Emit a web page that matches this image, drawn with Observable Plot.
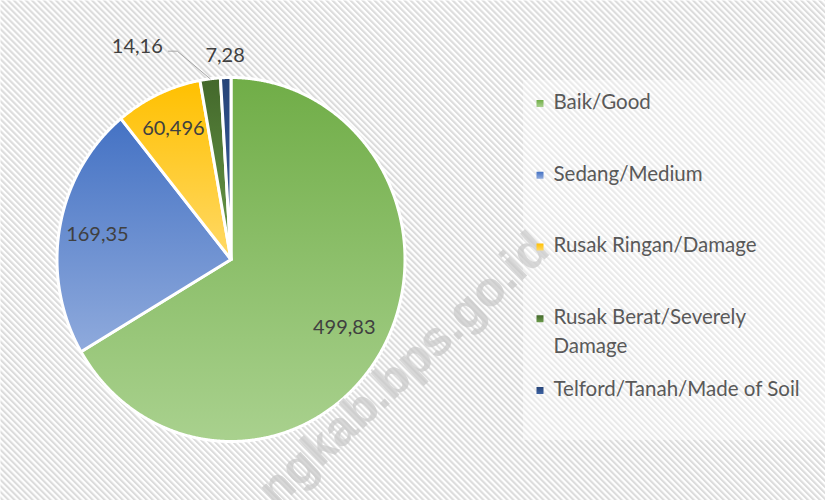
<!DOCTYPE html>
<html>
<head>
<meta charset="utf-8">
<script src="https://cdn.jsdelivr.net/npm/d3@7"></script>
<script src="https://cdn.jsdelivr.net/npm/@observablehq/plot@0.6"></script>
<style>
  html, body { margin: 0; padding: 0; background: #ffffff; }
  #chart { width: 825px; height: 500px; }
</style>
</head>
<body>
<div id="chart"></div>
<script>
// ---- data ----
const categories = ["Baik/Good", "Sedang/Medium", "Rusak Ringan/Damage", "Rusak Berat/Severely\nDamage", "Telford/Tanah/Made of Soil"];
const values = [499.83, 169.35, 60.496, 14.16, 7.28];
const valueLabels = ["499,83", "169,35", "60,496", "14,16", "7,28"];
const topColors = ["#70AD47", "#4472C4", "#FFC000", "#43682B", "#264478"];
const bottomColors = ["#A9D18E", "#8FAADC", "#FFD966", "#6A9A4A", "#3D62A3"];
const watermark = ["ngkab.bps.go.id"];

// ---- layout ----
const W = 825, H = 500;
const cx = 230.5, cy = 259, rx = 174, ry = 182;
const ix = px => (px - cx) / rx;   // pixel -> data x
const iy = py => (cy - py) / ry;   // pixel -> data y

const arcs = d3.pie().sort(null).value(d => d)(values);

// slice polygons in unit data space
const slices = arcs.map((a, i) => {
  const n = Math.max(3, Math.ceil((a.endAngle - a.startAngle) / 0.005));
  const pts = [{x: 0, y: 0}];
  for (let k = 0; k <= n; k++) {
    const t = a.startAngle + (a.endAngle - a.startAngle) * k / n;
    pts.push({x: Math.sin(t), y: Math.cos(t)});
  }
  pts.push({x: 0, y: 0});
  return pts;
});

// label positions
const labelR = [0.75, 0.78, 0.79, 1.29, 1.12];
const labelShift = [0, 0, 0, -17.8 * Math.PI / 180, 0];
const labels = arcs.map((a, i) => {
  const m = (a.startAngle + a.endAngle) / 2 + labelShift[i];
  return {x: Math.sin(m) * labelR[i], y: Math.cos(m) * labelR[i], text: valueLabels[i]};
});

// leader line for the small outside label (index 3)
const lab3 = labels[3];
const lab3px = cx + lab3.x * rx, lab3py = cy - lab3.y * ry;
const mid3 = (arcs[3].startAngle + arcs[3].endAngle) / 2;
const leader = [
  {x: ix(lab3px + 31), y: iy(lab3py + 5)},
  {x: ix(lab3px + 40), y: iy(lab3py + 5)},
  {x: Math.sin(mid3) * 1.0, y: Math.cos(mid3) * 1.0}
];

// legend
const legendTop = 103.5, legendStep = 71.75, fs = 20.5;
const legend = categories.map((c, i) => {
  const yy = legendTop + i * legendStep;
  return {
    i, label: c,
    tx: ix(553), ty: iy(yy - 0.76 * fs),
    sx1: ix(536.5), sx2: ix(543.5), sy1: iy(yy - 3.5), sy2: iy(yy + 3.5)
  };
});

const marks = [];
marks.push(Plot.frame({fill: "url(#stripes)", stroke: "none"}));
slices.forEach((pts, i) => {
  marks.push(Plot.line(pts, {
    x: "x", y: "y", fill: `url(#grad${i})`, stroke: "white",
    strokeWidth: 3, strokeLinejoin: "round", curve: "linear"
  }));
});
marks.push(Plot.line(leader, {x: "x", y: "y", stroke: "#a6a6a6", strokeWidth: 1}));
marks.push(Plot.text(labels, {
  x: "x", y: "y", text: "text", fontSize: 20, fill: "#404040", fontFamily: "Lato"
}));
// legend box
marks.push(Plot.rect([0], {
  x1: ix(523), x2: ix(826), y1: iy(80), y2: iy(440), fill: "white", fillOpacity: 0.4
}));
marks.push(Plot.text(watermark, {
  x: ix(403), y: iy(369), text: d => d, rotate: -43,
  fontSize: 49, fontWeight: "bold", fontFamily: "Liberation Sans",
  fill: "#c8c8c8", fillOpacity: 0.7
}));
legend.forEach(d => {
  marks.push(Plot.rect([d], {x1: "sx1", x2: "sx2", y1: "sy1", y2: "sy2", fill: `url(#lgrad${d.i})`}));
});
marks.push(Plot.text(legend, {
  x: "tx", y: "ty", text: "label", textAnchor: "start", lineAnchor: "top",
  fontSize: fs, lineHeight: 1.41, fill: "#595959", fontFamily: "Lato"
}));

const svg = Plot.plot({
  width: W, height: H,
  marginTop: 0, marginRight: 0, marginBottom: 0, marginLeft: 0,
  x: {domain: [-1, 1], range: [cx - rx, cx + rx], axis: null},
  y: {domain: [-1, 1], range: [cy + ry, cy - ry], axis: null},
  style: {background: "white", fontFamily: "Lato", overflow: "hidden"},
  marks
});

// defs: stripe pattern + gradients
const NS = "http://www.w3.org/2000/svg";
const defs = document.createElementNS(NS, "defs");
let html = `<pattern id="stripes" width="4.25" height="4.25" patternUnits="userSpaceOnUse" patternTransform="rotate(-45)">
  <rect width="4.25" height="4.25" fill="#ffffff"/>
  <rect width="2.1" height="4.25" fill="#dcdcdc"/>
</pattern>`;
topColors.forEach((c, i) => {
  html += `<linearGradient id="grad${i}" x1="0" y1="0" x2="0" y2="1">
    <stop offset="0" stop-color="${c}"/><stop offset="1" stop-color="${bottomColors[i]}"/></linearGradient>`;
  html += `<linearGradient id="lgrad${i}" x1="0" y1="0" x2="0" y2="1">
    <stop offset="0" stop-color="${c}"/><stop offset="1" stop-color="${bottomColors[i]}"/></linearGradient>`;
});
defs.innerHTML = html;
svg.insertBefore(defs, svg.firstChild);

document.getElementById("chart").appendChild(svg);
</script>
</body>
</html>
